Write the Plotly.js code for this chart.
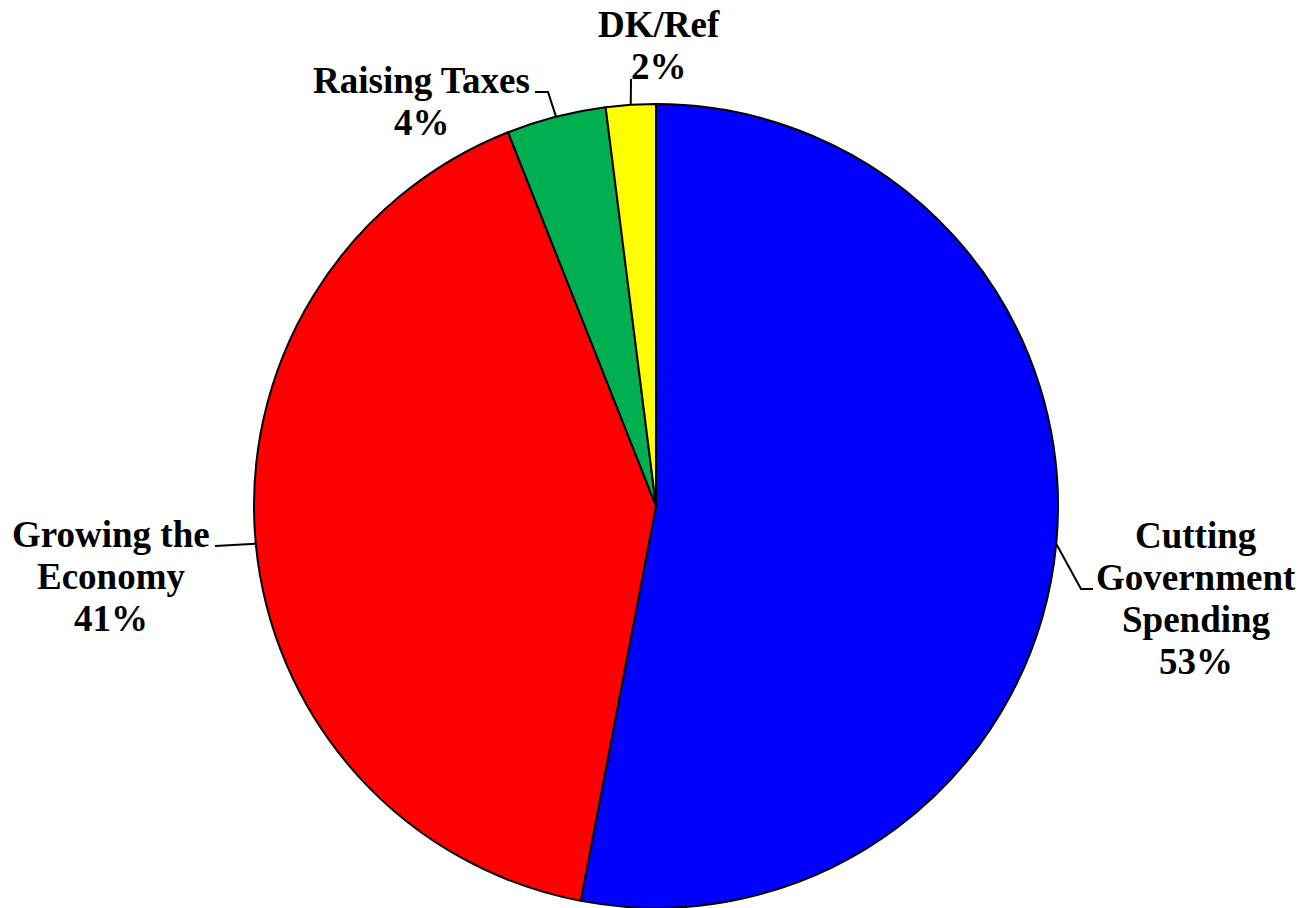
<!DOCTYPE html>
<html>
<head>
<meta charset="utf-8">
<script src="https://cdn.plot.ly/plotly-3.0.1.min.js"></script>
<style>html,body{margin:0;padding:0;background:#fff;overflow:hidden}</style>
</head>
<body>
<div id="chart" style="width:1303px;height:908px"></div>
<script>
// ---- data ----
const categories = ["Cutting Government Spending", "Growing the Economy", "Raising Taxes", "DK/Ref"];
const labelLines = [["Cutting", "Government", "Spending"], ["Growing the", "Economy"], ["Raising Taxes"], ["DK/Ref"]];
const values = [53, 41, 4, 2];
const colors = ["#0000FF", "#FF0000", "#00B050", "#FFFF00"];

// ---- layout geometry (pixels) ----
const W = 1303, H = 908;
const R = 402, CX = 656, CY = 506;
const FONT = {family: "Liberation Serif, Times New Roman, serif", size: 37, color: "#000000", weight: "bold"};
const LINE_GAP = 42;
// label block: centre x, first line cap-middle y, leader elbow and end points
const labelPlace = [
  {cx: 1196, y0: 535, elbow: [1081, 589], end: [1093, 589]},
  {cx: 111, y0: 534, elbow: [215, 546], end: [215, 546]},
  {cx: 421.5, y0: 80.5, elbow: [548, 92], end: [535, 92]},
  {cx: 659, y0: 24.5, elbow: [631, 79], end: [631, 79]}
];

const px = x => x / W;
const py = y => 1 - y / H;

const total = values.reduce((a, b) => a + b, 0);
const annotations = [];
const shapes = [];
let cum = 0;
values.forEach((v, i) => {
  const mid = (cum + v / 2) / total * 2 * Math.PI;
  cum += v;
  const ex = CX + R * Math.sin(mid);
  const ey = CY - R * Math.cos(mid);
  const p = labelPlace[i];
  const lines = labelLines[i].concat([v + "%"]);
  lines.forEach((t, k) => {
    annotations.push({
      xref: "paper", yref: "paper",
      x: px(p.cx), y: py(p.y0 + k * LINE_GAP),
      xanchor: "center", yanchor: "middle",
      text: t, showarrow: false, font: FONT
    });
  });
  shapes.push({
    type: "path", xref: "paper", yref: "paper",
    path: `M ${px(ex)},${py(ey)} L ${px(p.elbow[0])},${py(p.elbow[1])} L ${px(p.end[0])},${py(p.end[1])}`,
    line: {color: "#000000", width: 2}
  });
});

const trace = {
  type: "pie",
  labels: categories,
  values: values,
  sort: false,
  direction: "clockwise",
  rotation: 0,
  marker: {colors: colors, line: {color: "#000000", width: 2}},
  textinfo: "none",
  textposition: "none",
  hoverinfo: "none",
  showlegend: false,
  domain: {x: [(CX - R) / W, (CX + R) / W], y: [0, 2 * R / H]}
};

const layout = {
  width: W,
  height: H,
  margin: {l: 0, r: 0, t: 0, b: 0},
  paper_bgcolor: "#ffffff",
  plot_bgcolor: "#ffffff",
  showlegend: false,
  annotations: annotations,
  shapes: shapes
};

Plotly.newPlot("chart", [trace], layout, {displayModeBar: false, staticPlot: true});
</script>
</body>
</html>
